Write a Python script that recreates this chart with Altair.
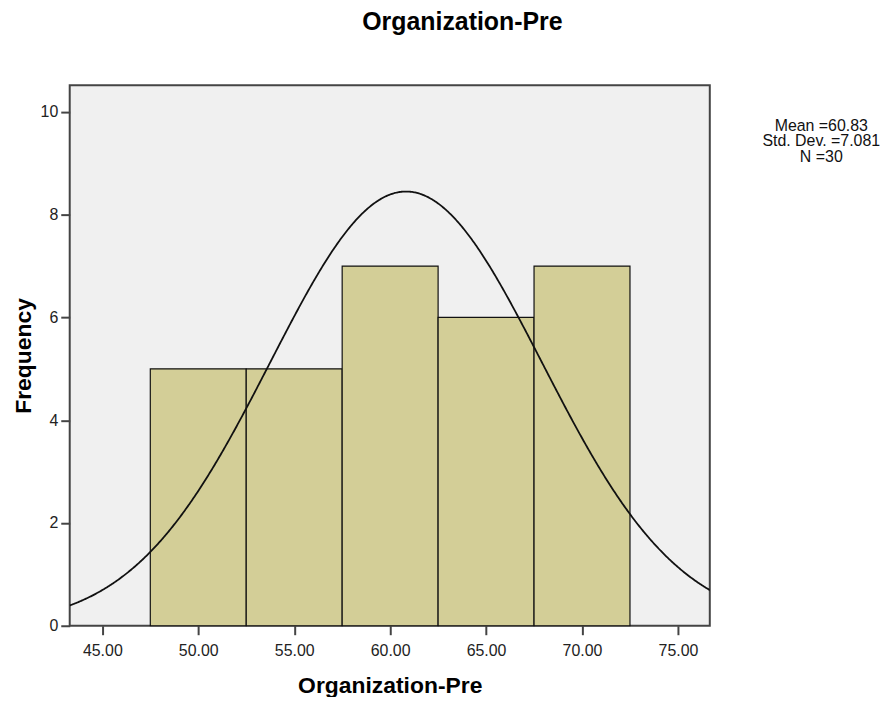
import altair as alt
import pandas as pd

# Histogram bins
bin_start = [47.5, 52.5, 57.5, 62.5, 67.5]
bin_end = [52.5, 57.5, 62.5, 67.5, 72.5]
counts = [5, 5, 7, 6, 7]

# Summary statistics shown in the legend
stat_mean = 60.83
stat_sd = 7.081
stat_n = 30
bin_width = 5.0

x_ticks = [45, 50, 55, 60, 65, 70, 75]
y_ticks = [0, 2, 4, 6, 8, 10]
x_domain = [43.3, 76.66]
y_domain = [0, 10.52]

bars_df = pd.DataFrame({"start": bin_start, "end": bin_end, "count": counts})
stats_lines = [f"Mean ={stat_mean:.2f}", f"Std. Dev. ={stat_sd:.3f}", f"N ={stat_n}"]

FONT = "Liberation Sans"

xscale = alt.Scale(domain=x_domain, nice=False, zero=False)
yscale = alt.Scale(domain=y_domain, nice=False)

x_axis = alt.Axis(values=x_ticks, format=".2f", title="Organization-Pre",
                  titleFontSize=23, titleFontWeight="bold", titleFont=FONT,
                  titleColor="#000", titlePadding=16,
                  labelFont=FONT, labelFontSize=16, labelColor="#222",
                  tickSize=9, tickColor="#444", tickWidth=2,
                  domain=False, grid=False, labelPadding=8)
y_axis = alt.Axis(values=y_ticks, format="d", title="Frequency",
                  titleFontSize=23, titleFontWeight="bold", titleFont=FONT,
                  titleColor="#000", titlePadding=5,
                  labelFont=FONT, labelFontSize=16, labelColor="#222",
                  tickSize=9, tickColor="#444", tickWidth=2,
                  domain=False, grid=False, labelPadding=3)

bars = alt.Chart(bars_df).mark_rect(
    fill="#d3ce97", stroke="#111", strokeWidth=1.2
).encode(
    x=alt.X("start:Q", scale=xscale, axis=x_axis),
    x2="end:Q",
    y=alt.Y("count:Q", scale=yscale, axis=y_axis),
    y2=alt.datum(0),
)

curve = alt.Chart(alt.sequence(start=x_domain[0], stop=x_domain[1] + 0.05, step=0.05, as_="xv")).transform_calculate(
    dens=f"{stat_n}*{bin_width}*exp(-0.5*pow((datum.xv-{stat_mean})/{stat_sd},2))/({stat_sd}*sqrt(2*PI))"
).mark_line(color="#111", strokeWidth=1.8, clip=True).encode(
    x=alt.X("xv:Q", scale=xscale),
    y=alt.Y("dens:Q", scale=yscale),
)

stats = alt.Chart(pd.DataFrame({"t": [0]})).mark_text(
    font=FONT, fontSize=16, color="#111", align="center", baseline="top",
    lineHeight=15.5, clip=False
).encode(
    x=alt.value(755), y=alt.value(33), text=alt.value(stats_lines)
)

chart = alt.layer(bars, curve, stats).properties(
    width=643, height=543,
    background="white",
    autosize=alt.AutoSizeParams(type="none"),
    padding={"left": 62, "top": 76, "right": 174, "bottom": 70},
    title=alt.TitleParams("Organization-Pre", fontSize=25, fontWeight="bold",
                          font=FONT, color="#000", anchor="middle", dx=73,
                          offset=50),
).configure_view(
    fill="#f0f0f0", stroke="#444", strokeWidth=2
)

chart.save("out.html", embed_options={"renderer": "svg", "actions": False})
